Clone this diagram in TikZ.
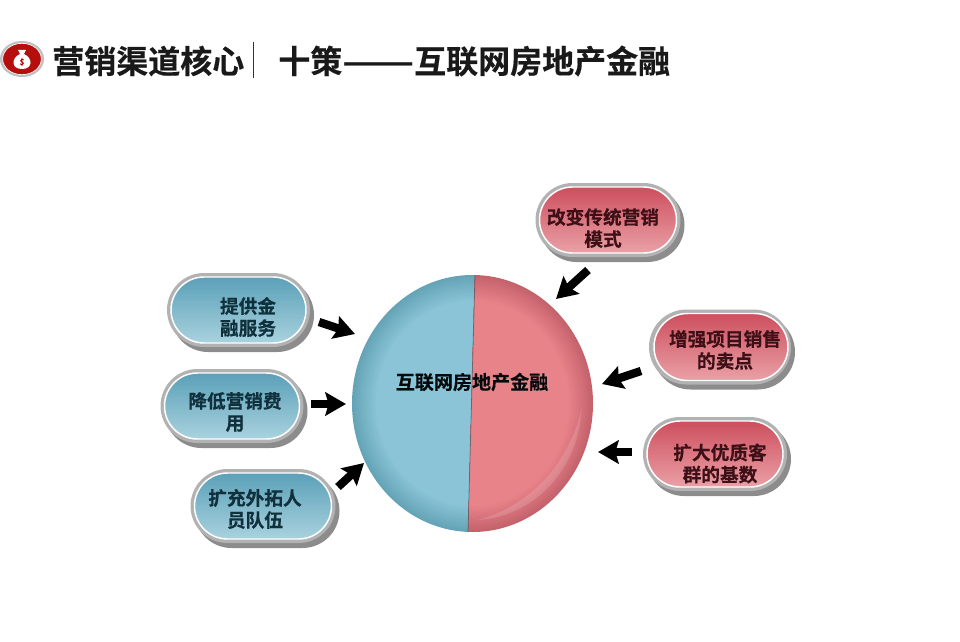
\documentclass[tikz,border=0pt]{standalone}
\usepackage{fontspec}
\setmainfont{Noto Sans CJK SC}[BoldFont={* Bold},BoldFeatures={FakeBold=0.4}]
\usetikzlibrary{shapes.misc,shapes.geometric,arrows.meta}
\definecolor{blueT}{HTML}{5BA0B8}\definecolor{blueB}{HTML}{A9D2DE}
\definecolor{redT}{HTML}{CD4F5E}\definecolor{redB}{HTML}{EAA0A6}
\definecolor{blueInk}{HTML}{10303C}\definecolor{redInk}{HTML}{3C1016}
\definecolor{ballBlue}{HTML}{8AC4D6}\definecolor{edgeBlue}{HTML}{64A4B6}
\definecolor{ballRed}{HTML}{E9838A}\definecolor{edgeRed}{HTML}{C4626C}
\tikzset{
  pillbase/.style={rounded rectangle,inner sep=0pt,minimum width=(#1)*.75pt},
  pillshadow/.style={fill=black!45,draw=none},
  pillrim/.style={fill=black!30,draw=none},
  bluepill/.style={top color=blueT,bottom color=blueB,draw=white,line width=1.1pt},
  redpill/.style={top color=redT,bottom color=redB,draw=white,line width=1.1pt},
  bluelabel/.style={font=\bfseries\fontsize{14pt}{16.5pt}\selectfont,text=blueInk,align=center,inner sep=0pt},
  redlabel/.style={font=\bfseries\fontsize{14pt}{16.5pt}\selectfont,text=redInk,align=center,inner sep=0pt},
  titletext/.style={font=\bfseries\fontsize{24pt}{28pt}\selectfont,text=black!90,anchor=west,inner sep=0pt},
  pusharrow/.style={line width=6.2pt,black,-{Stealth[length=15.5pt,width=17.5pt,inset=2.5pt]},shorten >=0pt},
}
% name, centre x, centre y, inner w, inner h, rim dx, rim dy, style
\newcommand{\pillbox}[8]{%
  \node[pillbase=#4+8,minimum height=(#5+8)*.75pt,pillshadow] at (#2+#6+4,#3+#7+5) {};
  \node[pillbase=#4+8,minimum height=(#5+8)*.75pt,pillrim] at (#2+#6,#3+#7) {};
  \node[pillbase=#4,minimum height=(#5)*.75pt,#8] (#1) at (#2,#3) {};
}
\begin{document}
\begin{tikzpicture}[x=.75pt,y=-.75pt]
\useasboundingbox (0,0) rectangle (960,642);
% logo
\node[ellipse,minimum width=33pt,minimum height=27pt,inner sep=0pt,fill=black!25] (logorim) at (22,59) {};
\node[ellipse,minimum width=29pt,minimum height=23.5pt,inner sep=0pt,fill=red!70!black!95,draw=white,line width=.5pt] (logo) at (22,59) {};
\fill[white] (18,50) -- (26,50) -- (24,54) .. controls (33,58) and (33,69) .. (22,69) .. controls (11,69) and (11,58) .. (20,54) -- cycle;
\node[font=\bfseries\fontsize{6pt}{6pt}\selectfont,text=red!70!black,inner sep=0pt] (logomark) at (22,62) {\$};
% title
\node[titletext] (title1) at (52,61) {营销渠道核心};
\coordinate (bartop) at (253,42);
\coordinate (barbot) at (253,78);
\draw[black!80,line width=.7pt] (bartop) -- (barbot);
\node[titletext] (title2) at (278,61) {十策\scalebox{1.32}[1]{——}互联网房地产金融};
% hub
\node[ellipse,minimum width=180.5pt,minimum height=192.5pt,inner sep=0pt] (hub) at (472.5,403.5) {};
\begin{scope}
  \clip (475,270) -- (468,540) -- (340,540) -- (340,270) -- cycle;
  \foreach \r in {100,99,...,80}{
    \pgfmathsetmacro\m{(100-\r)*5}
    \fill[ballBlue!\m!edgeBlue] (472.5,403.5) ellipse [x radius=1.205*\r,y radius=1.285*\r];
  }
\end{scope}
\begin{scope}
  \clip (475,270) -- (468,540) -- (600,540) -- (600,270) -- cycle;
  \foreach \r in {100,99,...,80}{
    \pgfmathsetmacro\m{(100-\r)*5}
    \fill[ballRed!\m!edgeRed] (472.5,403.5) ellipse [x radius=1.205*\r,y radius=1.285*\r];
  }
  \clip (472.5,404) ellipse [x radius=109,y radius=116];
  \fill[white,opacity=.14,even odd rule] (340,270) rectangle (600,540) (445,375) ellipse [x radius=140,y radius=149];
\end{scope}
\coordinate (seamtop) at (475,275);
\coordinate (seambot) at (468,532);
\draw[black!50!blueT,opacity=.6,line width=.6pt] (seamtop) -- (seambot);
\node[redlabel,text=black!80!blueInk,font=\bfseries\fontsize{14.3pt}{16.5pt}\selectfont] (hubtext) at (472,382) {互联网房地产金融};
% pills
\pillbox{a}{238.5}{310}{135}{66}{0}{0}{bluepill}
\pillbox{b}{232}{406}{135}{66}{0}{0}{bluepill}
\pillbox{c}{263}{506}{137}{66}{0}{0}{bluepill}
\pillbox{d}{608}{220}{137}{66}{0}{0}{redpill}
\pillbox{e}{721}{347}{134}{67}{-1}{0}{redpill}
\pillbox{f}{715}{454}{136}{66}{0}{0}{redpill}
\node[bluelabel] (at) at (248,317) {提供金\\融服务};
\node[bluelabel] (bt) at (235,412) {降低营销费\\用};
\node[bluelabel] (ct) at (255,509) {扩充外拓人\\员队伍};
\node[redlabel] (dt) at (603,228) {改变传统营销\\模式};
\node[redlabel] (et) at (725,350) {增强项目销售\\的卖点};
\node[redlabel] (ft) at (720,463.5) {扩大优质客\\群的基数};
% arrows
\coordinate (a1) at (319,322); \coordinate (a2) at (355,334);
\coordinate (b1) at (311,404); \coordinate (b2) at (346,404);
\coordinate (c1) at (338,487); \coordinate (c2) at (364,463);
\coordinate (d1) at (588,270); \coordinate (d2) at (556,299);
\coordinate (e1) at (641,371); \coordinate (e2) at (602,384);
\coordinate (f1) at (632,452); \coordinate (f2) at (598,452);
\foreach \s/\t in {a1/a2,b1/b2,c1/c2,d1/d2,e1/e2,f1/f2}
  \draw[pusharrow] (\s) -- (\t);
\end{tikzpicture}
\end{document}
